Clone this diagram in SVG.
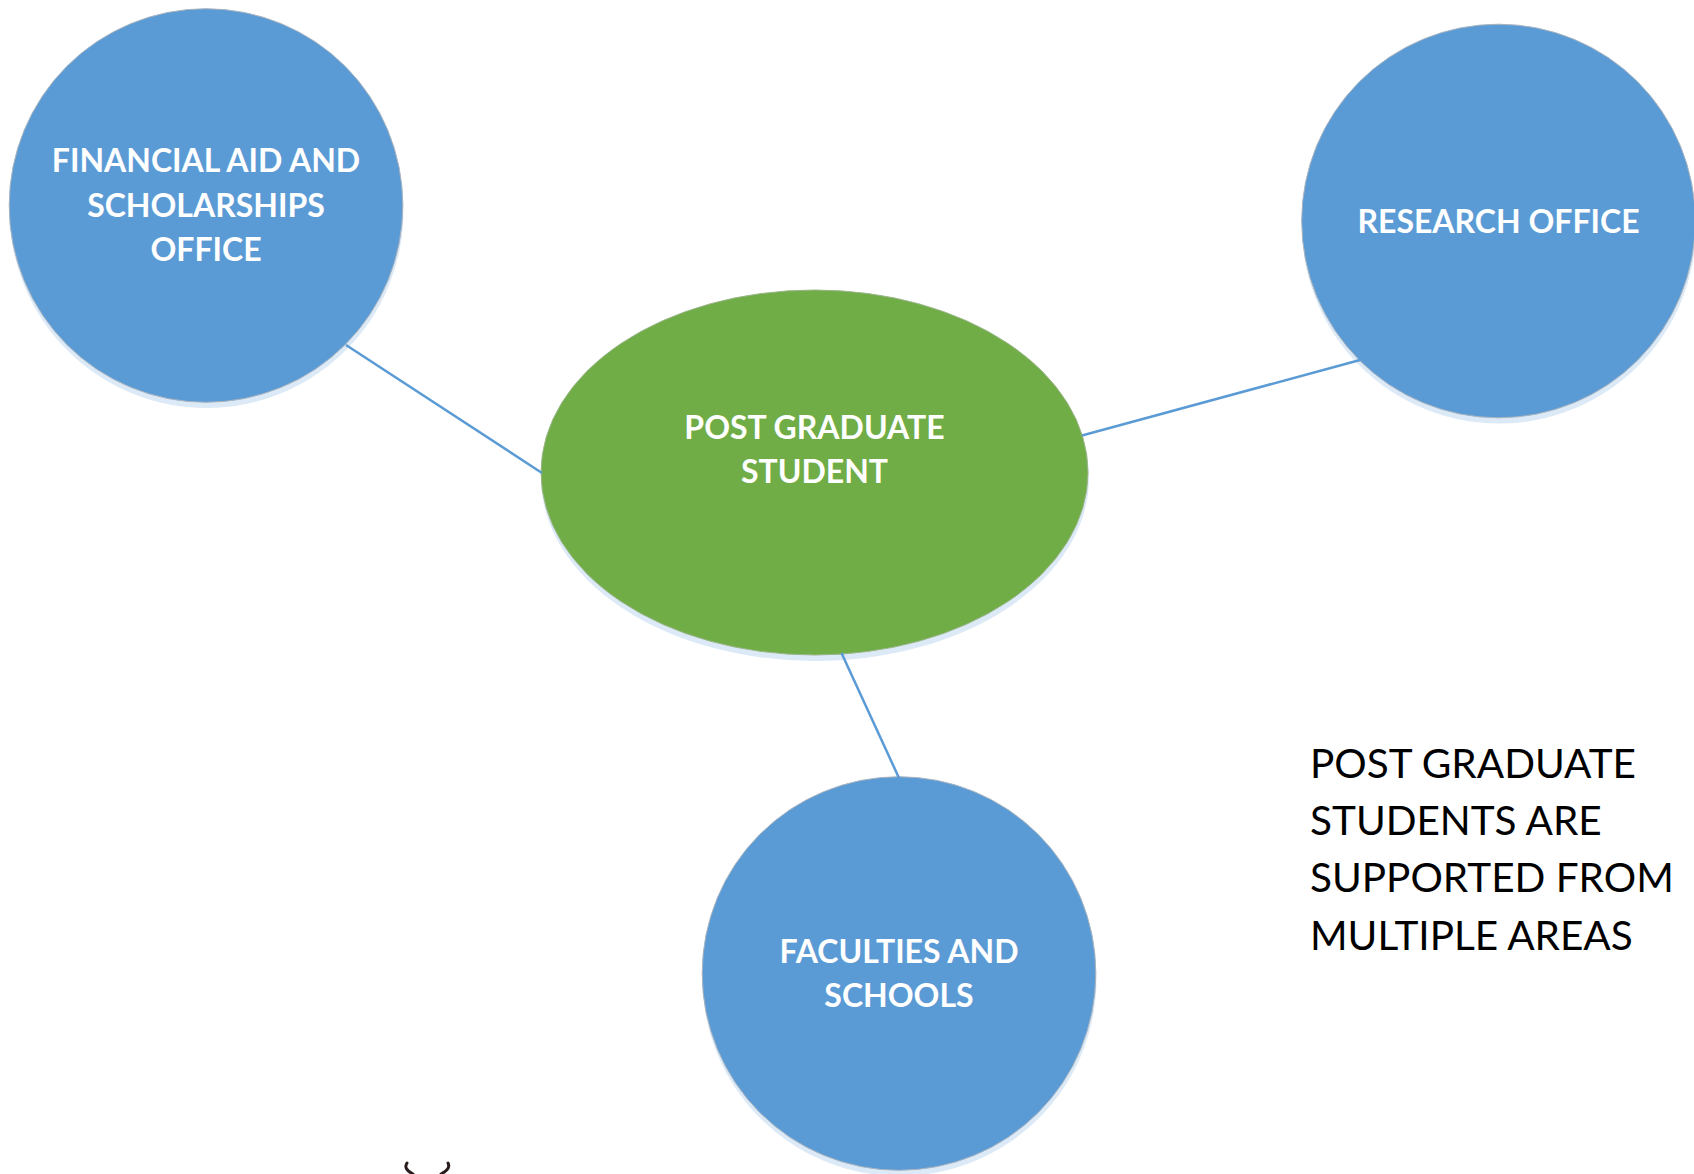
<svg xmlns="http://www.w3.org/2000/svg" width="1694" height="1174" viewBox="0 0 1694 1174">
<style>
.shadow{fill:#dce9f6}
.blue{fill:#5b9bd5;stroke:#a9b4bf;stroke-width:1}
.green{fill:#70ad47;stroke:#9bb58a;stroke-width:1}
.lbl{font-family:"Lato","Liberation Sans",sans-serif;font-weight:700;font-size:32px;fill:#fff;text-anchor:middle}
.note{font-family:"Lato","Liberation Sans",sans-serif;font-size:40.5px;fill:#000}
.conn{stroke:#5b9bd5;stroke-width:2.5;fill:none}
.horn{stroke:#2a1c1c;stroke-width:3;fill:none;stroke-linecap:round}
</style>
<rect width="1694" height="1174" fill="#fff"/>
<g id="node-financial">
<circle class="shadow" cx="206.500" cy="211" r="197"/>
<circle class="blue" cx="206" cy="205.500" r="196.800"/>
<text class="lbl" x="206" y="172">FINANCIAL AID AND</text>
<text class="lbl" x="206" y="217">SCHOLARSHIPS</text>
<text class="lbl" x="206" y="261">OFFICE</text>
</g>
<g id="node-research">
<circle class="shadow" cx="1499" cy="226.500" r="197"/>
<circle class="blue" cx="1498.500" cy="221" r="196.800"/>
<text class="lbl" x="1498.500" y="233">RESEARCH OFFICE</text>
</g>
<g id="node-student">
<ellipse class="shadow" cx="815" cy="478" rx="274" ry="183"/>
<ellipse class="green" cx="814.500" cy="472.500" rx="273.500" ry="182.500"/>
<text class="lbl" x="814.500" y="439">POST GRADUATE</text>
<text class="lbl" x="814.500" y="483">STUDENT</text>
</g>
<g id="node-faculties">
<circle class="shadow" cx="899.500" cy="979" r="197"/>
<circle class="blue" cx="899" cy="973.500" r="196.800"/>
<text class="lbl" x="899" y="963">FACULTIES AND</text>
<text class="lbl" x="899" y="1007">SCHOOLS</text>
</g>
<g id="connectors">
<line class="conn" x1="346" y1="345" x2="542" y2="473"/>
<line class="conn" x1="1082" y1="435.500" x2="1360" y2="360"/>
<line class="conn" x1="841.500" y1="653" x2="899" y2="778"/>
</g>
<g id="note">
<text class="note" x="1310" y="778">POST GRADUATE</text>
<text class="note" x="1310" y="835">STUDENTS ARE</text>
<text class="note" x="1310" y="892">SUPPORTED FROM</text>
<text class="note" x="1310" y="950">MULTIPLE AREAS</text>
</g>
<g id="mark">
<path class="horn" d="M407 1163Q403 1169 413 1174"/>
<path class="horn" d="M448 1163Q451 1169 441 1174"/>
</g>
</svg>
